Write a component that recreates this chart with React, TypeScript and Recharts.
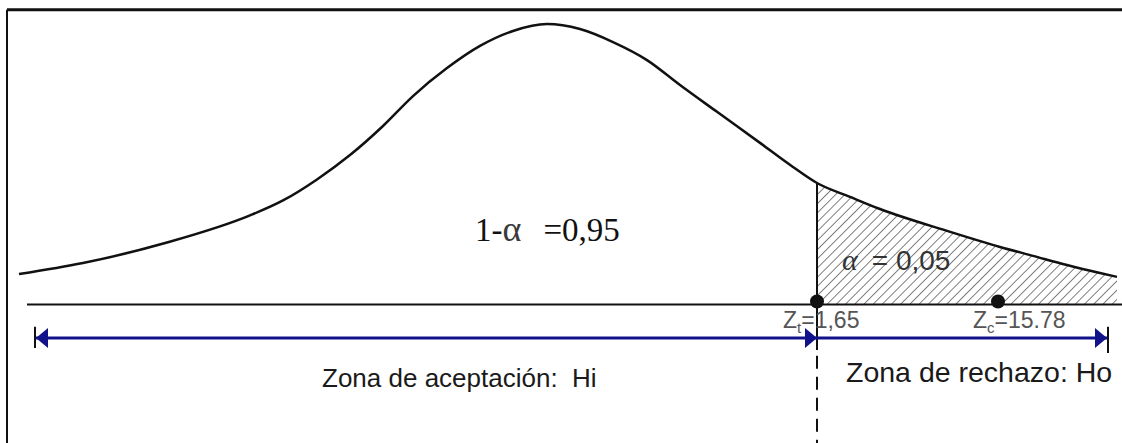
import {
  Area,
  ComposedChart,
  Line,
  ReferenceDot,
  ReferenceLine,
  XAxis,
  YAxis,
} from "recharts";

const W = 1122;
const H = 443;

const INK = "#111111";
const NAVY = "#12128a";
const GREY = "#555555";
const SANS = "'Liberation Sans', Arial, sans-serif";
const SERIF = "'Liberation Serif', 'Times New Roman', serif";

// curve heights (peak ~ 1)
const xs = [
  1.9, 8.3, 16.7, 25.0, 28.3, 31.7, 35.0, 38.3, 41.3, 44.7, 48.0, 51.3, 54.7, 58.0,
  61.3, 64.7, 68.0, 71.7, 76.0, 79.3, 81.7, 85.0, 88.0, 94.7, 100.0, 103.3, 106.7,
  110.0, 111.7,
];
const density = [
  0.11, 0.15, 0.224, 0.322, 0.376, 0.452, 0.54, 0.645, 0.753, 0.854, 0.934, 0.988,
  1.013, 0.995, 0.948, 0.883, 0.793, 0.696, 0.584, 0.497, 0.439, 0.389, 0.345, 0.266,
  0.208, 0.176, 0.143, 0.114, 0.1,
];

const CUT = 81.7; // Zt
const ZC = 99.8; // Zc
const ARROW_L = 3.6;
const ARROW_R = 110.7;
const ARROW_Y = -0.121;

const acceptText = "Zona de aceptación:  Hi";
const rejectText = "Zona de rechazo: Ho";
const ztValue = "=1,65";
const zcValue = "=15.78";

const data = xs.map((x, i) => ({
  x,
  density: density[i],
  tail: x >= CUT ? density[i] : null,
}));

const cutHeight = density[xs.indexOf(CUT)];

const arrowHead = (dir: 1 | -1) => (p: any) => (
  <path
    d={`M${p.cx},${p.cy} L${p.cx - dir * 12},${p.cy - 10} L${p.cx - dir * 12},${p.cy + 10} Z`}
    fill={NAVY}
  />
);

const zLabel = (sub: string, value: string) => (p: any) => (
  <text x={p.cx} y={p.cy} fill={GREY} fontFamily={SANS} fontSize={23}>
    <tspan>Z</tspan>
    <tspan fontSize={15} dy={5}>
      {sub}
    </tspan>
    <tspan dy={-5}>{value}</tspan>
  </text>
);

const plainLabel = (text: string, size: number, color: string) => (p: any) => (
  <text x={p.cx} y={p.cy} fill={color} fontFamily={SANS} fontSize={size} style={{ whiteSpace: "pre" }}>
    {text}
  </text>
);

const oneMinusAlpha = (p: any) => (
  <text x={p.cx} y={p.cy} fill={INK} fontFamily={SERIF} fontSize={33} style={{ whiteSpace: "pre" }}>
    <tspan>1-</tspan>
    <tspan fill="#3a3a3a" fontSize={36}>
      α
    </tspan>
    <tspan dx={22}>=0,95</tspan>
  </text>
);

const alphaTail = (p: any) => (
  <text x={p.cx} y={p.cy} fill="#333333" fontFamily={SANS} fontSize={28} style={{ whiteSpace: "pre" }}>
    <tspan fontFamily={SERIF} fontStyle="italic" fontSize={30}>
      α
    </tspan>
    <tspan dx={14}>= 0,05</tspan>
  </text>
);

export default function App() {
  return (
    <div style={{ position: "absolute", left: 0, top: 0, width: W, height: H, background: "#fff" }}>
      <ComposedChart width={W} height={H} data={data} margin={{ top: 0, right: 0, bottom: 0, left: 0 }}>
        <defs>
          <pattern
            id="hatch"
            width="6.5"
            height="6.5"
            patternUnits="userSpaceOnUse"
            patternTransform="rotate(45)"
          >
            <line x1="0" y1="0" x2="0" y2="6.5" stroke="#4a4a4a" strokeWidth={1.4} />
          </pattern>
        </defs>
        <XAxis dataKey="x" type="number" domain={[0, 112.2]} hide allowDataOverflow />
        <YAxis type="number" domain={[-0.5, 1.1]} hide allowDataOverflow />

        {/* frame */}
        <ReferenceLine segment={[{ x: 0.7, y: 1.065 }, { x: 112.2, y: 1.065 }]} stroke={INK} strokeWidth={3} />
        <ReferenceLine segment={[{ x: 0.7, y: 1.065 }, { x: 0.7, y: -0.5 }]} stroke={INK} strokeWidth={2} />

        <Area
          type="monotone"
          dataKey="tail"
          stroke="none"
          fill="url(#hatch)"
          fillOpacity={1}
          baseValue={0}
          dot={false}
          activeDot={false}
          isAnimationActive={false}
        />
        <Line
          type="monotone"
          dataKey="density"
          stroke={INK}
          strokeWidth={2.5}
          dot={false}
          activeDot={false}
          isAnimationActive={false}
        />

        {/* baseline */}
        <ReferenceLine segment={[{ x: 2.7, y: 0 }, { x: 112.2, y: 0 }]} stroke={INK} strokeWidth={2} />

        {/* critical value line */}
        <ReferenceLine segment={[{ x: CUT, y: cutHeight }, { x: CUT, y: -0.164 }]} stroke={INK} strokeWidth={2} />
        <ReferenceLine
          segment={[{ x: CUT, y: -0.185 }, { x: CUT, y: -0.5 }]}
          stroke={INK}
          strokeWidth={2}
          strokeDasharray="13 8"
        />

        {/* zone arrows */}
        <ReferenceLine segment={[{ x: ARROW_L, y: ARROW_Y }, { x: ARROW_R, y: ARROW_Y }]} stroke={NAVY} strokeWidth={3} />
        <ReferenceLine segment={[{ x: 3.5, y: -0.08 }, { x: 3.5, y: -0.157 }]} stroke={INK} strokeWidth={2} />
        <ReferenceLine segment={[{ x: 110.8, y: -0.08 }, { x: 110.8, y: -0.175 }]} stroke={INK} strokeWidth={2} />
        <ReferenceDot x={ARROW_L} y={ARROW_Y} r={0} shape={arrowHead(-1)} />
        <ReferenceDot x={CUT} y={ARROW_Y} r={0} shape={arrowHead(1)} />
        <ReferenceDot x={ARROW_R} y={ARROW_Y} r={0} shape={arrowHead(1)} />

        {/* points */}
        <ReferenceDot x={CUT} y={0.011} r={7} fill={INK} stroke="none" />
        <ReferenceDot x={ZC} y={0.011} r={7} fill={INK} stroke="none" />

        {/* labels */}
        <ReferenceDot x={47.5} y={0.23} r={0} shape={oneMinusAlpha} />
        <ReferenceDot x={84.2} y={0.125} r={0} shape={alphaTail} />
        <ReferenceDot x={78.3} y={-0.085} r={0} shape={zLabel("t", ztValue)} />
        <ReferenceDot x={97.3} y={-0.085} r={0} shape={zLabel("c", zcValue)} />
        <ReferenceDot x={32.2} y={-0.298} r={0} shape={plainLabel(acceptText, 26, "#1a1a1a")} />
        <ReferenceDot x={84.6} y={-0.28} r={0} shape={plainLabel(rejectText, 28.5, "#1a1a1a")} />
      </ComposedChart>
    </div>
  );
}
